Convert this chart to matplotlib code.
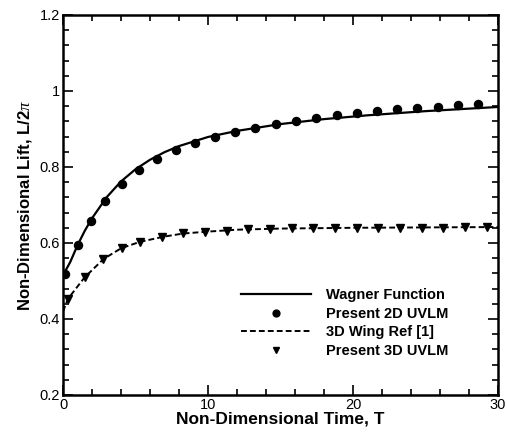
import matplotlib
matplotlib.use("Agg")
import matplotlib.pyplot as plt
from matplotlib.ticker import MultipleLocator

# Wagner function (solid line)
wagner_t = [0, 0.5, 1, 1.5, 2, 3, 4, 5, 6, 7, 8, 10, 12, 15, 18, 21, 25, 30]
wagner_l = [0.515, 0.550, 0.594, 0.632, 0.665, 0.720, 0.762, 0.794, 0.819, 0.839,
            0.855, 0.879, 0.895, 0.913, 0.926, 0.936, 0.947, 0.958]

# Present 2D UVLM (circles)
uvlm2d_t = [0.14, 1.03, 1.93, 2.90, 4.07, 5.24, 6.48, 7.79, 9.10, 10.48, 11.86, 13.24,
            14.69, 16.07, 17.45, 18.90, 20.28, 21.66, 23.03, 24.41, 25.86, 27.24, 28.62]
uvlm2d_l = [0.518, 0.595, 0.658, 0.711, 0.755, 0.792, 0.821, 0.845, 0.863, 0.879, 0.892,
            0.903, 0.913, 0.921, 0.929, 0.937, 0.942, 0.947, 0.953, 0.955, 0.958, 0.963, 0.966]

# 3D Wing Ref [1] (dashed line)
wing3d_t = [0, 0.34, 1.5, 2.8, 4, 5.3, 7, 8.3, 10, 12, 15, 20, 25, 30]
wing3d_l = [0.420, 0.453, 0.510, 0.558, 0.586, 0.603, 0.617, 0.625, 0.630, 0.635,
            0.638, 0.640, 0.641, 0.642]

# Present 3D UVLM (triangles)
uvlm3d_t = [0.34, 1.52, 2.76, 4.07, 5.31, 6.83, 8.28, 9.79, 11.31, 12.76, 14.28, 15.79,
            17.24, 18.76, 20.28, 21.72, 23.24, 24.76, 26.21, 27.72, 29.24]
uvlm3d_l = [0.453, 0.511, 0.558, 0.587, 0.603, 0.616, 0.626, 0.629, 0.632, 0.637, 0.637,
            0.639, 0.639, 0.639, 0.639, 0.639, 0.639, 0.639, 0.639, 0.642, 0.642]

plt.rcParams['font.family'] = ['Liberation Sans', 'DejaVu Sans']
plt.rcParams['mathtext.fontset'] = 'custom'
plt.rcParams['mathtext.it'] = 'Liberation Serif:italic'

fig = plt.figure(figsize=(5.07, 4.32), dpi=100)
ax = fig.add_axes([63/507, 1-395/432, (498-63)/507, (395-15)/432])

ax.plot(wagner_t, wagner_l, '-', color='black', lw=1.6, label='Wagner Function')
ax.plot(uvlm2d_t, uvlm2d_l, 'o', color='black', ms=5.8, label='Present 2D UVLM')
ax.plot(wing3d_t, wing3d_l, '--', color='black', lw=1.4, dashes=(3, 1.6), label='3D Wing Ref [1]')
ax.plot(uvlm3d_t, uvlm3d_l, 'v', color='black', ms=5.5, label='Present 3D UVLM')

ax.set_xlim(0, 30)
ax.set_ylim(0.2, 1.2)
ax.xaxis.set_major_locator(MultipleLocator(10))
ax.xaxis.set_minor_locator(MultipleLocator(2))
ax.yaxis.set_major_locator(MultipleLocator(0.2))
ax.yaxis.set_minor_locator(MultipleLocator(0.04))
ax.set_yticks([0.2, 0.4, 0.6, 0.8, 1.0, 1.2])
ax.set_yticklabels(['0.2', '0.4', '0.6', '0.8', '1', '1.2'])
ax.set_xticks([0, 10, 20, 30])
ax.set_xticklabels(['0', '10', '20', '30'])

ax.tick_params(which='both', direction='in', top=True, right=True, labelsize=10.5, width=1.2)
ax.tick_params(which='major', length=7, pad=2)
ax.tick_params(which='minor', length=4)
for s in ax.spines.values():
    s.set_linewidth(1.8)

ax.set_xlabel('Non-Dimensional Time, T', fontsize=12.5, fontweight='bold', labelpad=0)
ax.set_ylabel(r'Non-Dimensional Lift, L/2$\it{\pi}$', fontsize=12, fontweight='bold', labelpad=4)

leg = ax.legend(loc='lower right', bbox_to_anchor=(0.899, 0.082), frameon=False,
                prop={'weight': 'bold', 'size': 10.5}, handlelength=4.8,
                handletextpad=1.0, labelspacing=0.32, borderaxespad=0, markerscale=0.85)

fig.savefig('out.png', dpi=100)
